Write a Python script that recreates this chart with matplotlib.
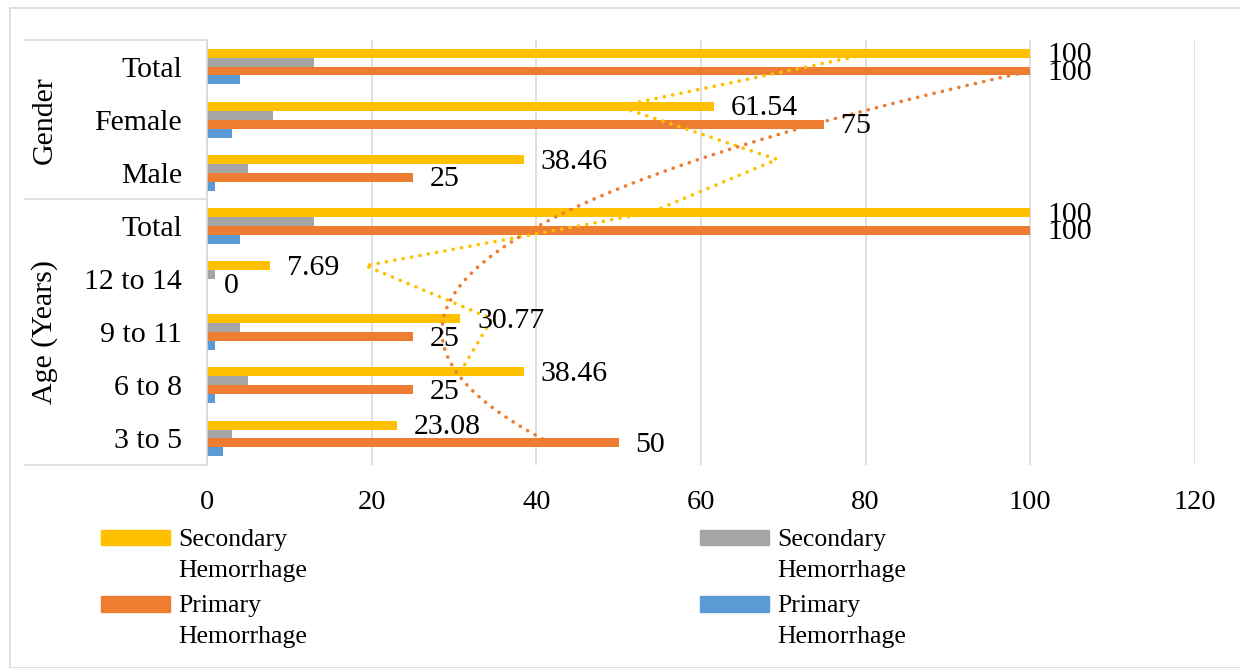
import matplotlib
matplotlib.use("Agg")
import matplotlib.pyplot as plt
import numpy as np
from matplotlib.patches import Patch, Rectangle

plt.rcParams['font.family'] = ['Liberation Serif', 'DejaVu Serif']

# categories bottom -> top
categories = ["3 to 5", "6 to 8", "9 to 11", "12 to 14", "Total", "Male", "Female", "Total"]
secondary_pct = [23.08, 38.46, 30.77, 7.69, 100, 38.46, 61.54, 100]
secondary_n = [3, 5, 4, 1, 13, 5, 8, 13]
primary_pct = [50, 25, 25, 0, 100, 25, 75, 100]
primary_n = [2, 1, 1, 0, 4, 1, 3, 4]
series_labels = ["Secondary\nHemorrhage", "Secondary\nHemorrhage", "Primary\nHemorrhage", "Primary\nHemorrhage"]
colors = ["#FFC000", "#A5A5A5", "#ED7D31", "#5B9BD5"]

W, H = 1240, 668
fig = plt.figure(figsize=(W / 100, H / 100), dpi=100)
ax = fig.add_axes([207 / W, 1 - 465 / H, (1195 - 207) / W, (465 - 40) / H])

idx = np.arange(len(categories))
h = 0.168
offsets = [1.5 * h, 0.5 * h, -0.5 * h, -1.5 * h]
all_series = [secondary_pct, secondary_n, primary_pct, primary_n]
for vals, off, col in zip(all_series, offsets, colors):
    ax.barh(idx + off, vals, height=h, color=col, zorder=2)

# data labels for the percentage series
for vals, off in [(secondary_pct, offsets[0]), (primary_pct, offsets[2])]:
    for i, v in enumerate(vals):
        ax.annotate(f"{v:g}", (v, i + off), xytext=(12, -1.5), textcoords="offset points",
                    ha="left", va="center", fontsize=21.5, zorder=4)

# trendlines: 2-period moving average (secondary) and 2nd order polynomial (primary)
dots = (0, (0.05, 2.3))
ma = [(secondary_pct[i - 1] + secondary_pct[i]) / 2 for i in range(1, len(secondary_pct))]
ax.plot(ma, idx[1:] + offsets[0], color="#FFC000", lw=2.6, linestyle=dots,
        dash_capstyle="round", zorder=3)
coef = np.polyfit(idx, primary_pct, 2)
t = np.linspace(0, len(categories) - 1, 200)
ax.plot(np.polyval(coef, t), t + offsets[2], color="#ED7D31", lw=2.6, linestyle=dots,
        dash_capstyle="round", zorder=3)

ax.set_xlim(0, 120)
ax.set_ylim(-0.5, 7.5)
ax.set_xticks(range(0, 121, 20))
ax.set_yticks(idx)
ax.set_yticklabels(categories)
ax.tick_params(axis="y", length=0, pad=18, labelsize=21.5)
ax.tick_params(axis="x", length=0, pad=18, labelsize=20.5)
ax.grid(axis="x", color="#D9D9D9", lw=1.2, zorder=0)
for s in ["top", "right", "bottom"]:
    ax.spines[s].set_visible(False)
ax.spines["left"].set_color("#D9D9D9")
ax.spines["left"].set_linewidth(1.2)

# group labels and table lines
tr = ax.get_yaxis_transform()
ax.text(-0.164, 6, "Gender", rotation=90, ha="center", va="center", fontsize=21.5, transform=tr)
ax.text(-0.164, 2, "Age (Years)", rotation=90, ha="center", va="center", fontsize=21.5, transform=tr)
x0 = (25 - 207) / (1195 - 207)
for yy in [-0.5, 4.5, 7.5]:
    ax.plot([x0, 0], [yy, yy], color="#D9D9D9", lw=1.2, transform=tr, clip_on=False)

# legend, two columns placed separately
def make_legend(items, x):
    handles = [Patch(color=colors[i]) for i in items]
    labels = [series_labels[i] for i in items]
    leg = fig.legend(handles, labels, loc="upper left", bbox_to_anchor=(x / W, 1 - 529 / H),
                     frameon=False, fontsize=18.5, handlelength=2.7, handleheight=0.55,
                     handletextpad=0.3, labelspacing=0.53, borderaxespad=0, borderpad=0)
    for txt in leg.get_texts():
        txt.set_linespacing(1.52)
    for p in leg.legend_handles:
        p.set_y(p.get_y() + 12.5)
    return leg

make_legend([0, 2], 101)
make_legend([1, 3], 700)

fig.add_artist(Rectangle((10 / W, 0), 1, 1 - 8 / H, transform=fig.transFigure,
                         fill=False, edgecolor="#D9D9D9", lw=1.2))

fig.savefig("out.png", dpi=100)
